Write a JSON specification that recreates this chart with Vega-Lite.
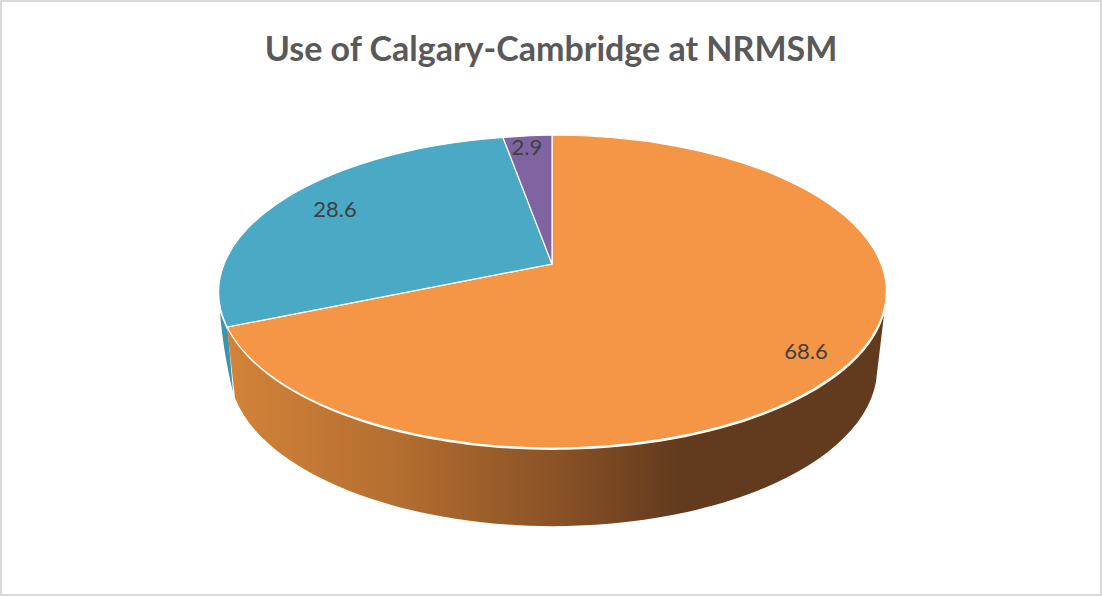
{
  "$schema": "https://vega.github.io/schema/vega-lite/v6.json",
  "width": 1102,
  "height": 596,
  "padding": 0,
  "autosize": "none",
  "background": "white",
  "view": {"stroke": "#d9d9d9", "strokeWidth": 4, "fill": "white"},
  "title": {
    "text": "Use of Calgary-Cambridge at NRMSM",
    "orient": "top",
    "anchor": "middle",
    "frame": "group",
    "offset": -68,
    "font": "Lato",
    "fontSize": 34,
    "fontWeight": "bold",
    "color": "#595959"
  },
  "data": {
    "values": [
      {"category": "A", "value": 68.6},
      {"category": "B", "value": 28.6},
      {"category": "C", "value": 2.9}
    ]
  },
  "layer": [
    {
      "transform": [{"filter": "datum.category === 'B'"}],
      "mark": {"type": "point", "filled": true, "opacity": 1, "size": 4, "fill": "#3b94ae", "strokeWidth": 0,
        "shape": "M-331,15 C-329,40 -324,70 -318,94 L-323,34 Z"},
      "encoding": {}
    },
    {
      "transform": [{"filter": "datum.category === 'A'"}],
      "mark": {"type": "point", "filled": true, "opacity": 1, "size": 4, "strokeWidth": 0,
        "shape": "M-324,29 A334,156.5 0 0 0 333,17 L326,75 A324,158 0 0 1 -316,100 Z",
        "fill": {"gradient": "linear", "x1": 0, "x2": 1, "y1": 0, "y2": 0,
          "stops": [
            {"offset": 0, "color": "#d38339"},
            {"offset": 0.25, "color": "#b56f30"},
            {"offset": 0.5, "color": "#8a5226"},
            {"offset": 0.69, "color": "#623a1d"},
            {"offset": 1, "color": "#623a1d"}
          ]}},
      "encoding": {}
    },
    {
      "mark": {"type": "point", "filled": true, "opacity": 1, "size": 4, "stroke": "white", "strokeWidth": 1.2},
      "encoding": {
        "shape": {
          "field": "category", "type": "nominal", "legend": null,
          "scale": {
            "domain": ["A", "B", "C"],
            "range": [
              "M1,-34 L1,-163 A334,156.5 0 1 1 -324,29 Z",
              "M1,-34 L-324,29 A334,156.5 0 0 1 -48,-160.5 Z",
              "M1,-34 L-48,-160.5 A334,156.5 0 0 1 1,-163 Z"
            ]
          }
        },
        "color": {
          "field": "category", "type": "nominal", "legend": null,
          "scale": {"domain": ["A", "B", "C"], "range": ["#f49646", "#4aa9c4", "#8064a2"]}
        }
      }
    },
    {
      "transform": [
        {"joinaggregate": [{"op": "sum", "field": "value", "as": "total"}]},
        {"window": [{"op": "sum", "field": "value", "as": "cum"}]},
        {"calculate": "2 * PI * (datum.cum - datum.value / 2) / datum.total", "as": "angle"},
        {"calculate": "1 + {A: 304, B: 246, C: 277}[datum.category] * sin(datum.angle)", "as": "lx"},
        {"calculate": "-34 - {A: 160, B: 115, C: 116}[datum.category] * cos(datum.angle)", "as": "ly"}
      ],
      "mark": {"type": "text", "font": "Lato", "fontSize": 22, "color": "#404040", "align": "center", "baseline": "middle"},
      "encoding": {
        "x": {"field": "lx", "type": "quantitative", "axis": null, "scale": {"domain": [-551, 551], "nice": false, "zero": false}},
        "y": {"field": "ly", "type": "quantitative", "axis": null, "scale": {"domain": [-298, 298], "reverse": true, "nice": false, "zero": false}},
        "text": {"field": "value", "type": "quantitative", "format": ".1f"}
      }
    }
  ]
}
